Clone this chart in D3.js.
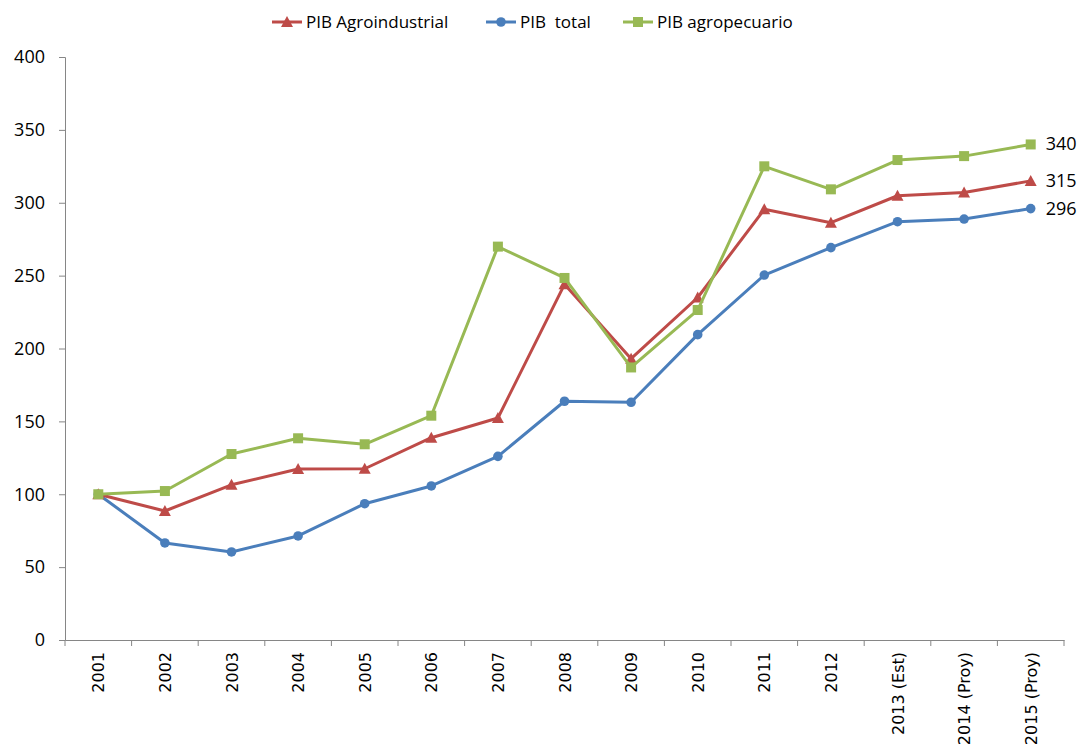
<!DOCTYPE html>
<html>
<head>
<meta charset="utf-8">
<script src="https://cdn.jsdelivr.net/npm/d3@7"></script>
<style>
  body { margin: 0; background: #fff; }
  svg { display: block; }
</style>
</head>
<body>
<svg id="chart" width="1078" height="751"></svg>
<script>
const years = ["2001", "2002", "2003", "2004", "2005", "2006", "2007", "2008", "2009", "2010", "2011", "2012", "2013 (Est)", "2014 (Proy)", "2015 (Proy)"];

const pibAgroindustrial = [100, 88.5, 106.5, 117.3, 117.5, 138.8, 152.3, 244, 193, 235, 295.5, 286.3, 304.8, 307, 315];
const pibTotal = [100, 66.6, 60.4, 71.4, 93.5, 105.7, 126, 163.8, 163.1, 209.5, 250.4, 269.2, 287, 288.8, 296];
const pibAgropecuario = [100, 102.2, 127.6, 138.4, 134.3, 153.9, 269.9, 248.4, 187, 226.4, 325, 309.2, 329.3, 332, 340];

const yTicks = [0, 50, 100, 150, 200, 250, 300, 350, 400];
const endLabels = ["340", "315", "296"];

const width = 1078;
const height = 751;
const margin = { top: 57, right: 14, bottom: 111, left: 65 };

const svg = d3.select("#chart");

const x = d3.scaleBand()
            .domain(years)
            .range([margin.left, width - margin.right]);

const y = d3.scaleLinear()
            .domain([0, 400])
            .range([height - margin.bottom, margin.top]);

const axisColor = "#868686";

// y axis
let yAxis = svg.append("g")
               .attr("transform", `translate(${margin.left},0)`)
               .call(d3.axisLeft(y).tickValues(yTicks).tickSize(6).tickPadding(14));
yAxis.selectAll("path, line").attr("stroke", axisColor);
yAxis.selectAll("text")
     .attr("font-family", "'Open Sans', sans-serif")
     .attr("font-size", 18)
     .attr("fill", "#000");

// x axis
let xAxis = svg.append("g")
               .attr("transform", `translate(0,${height - margin.bottom})`)
               .call(d3.axisBottom(x).tickSize(0));
xAxis.selectAll("path").attr("stroke", axisColor);
xAxis.selectAll(".tick text").remove();

// tick marks between categories
svg.append("g")
   .selectAll("line")
   .data(d3.range(years.length + 1))
   .enter()
   .append("line")
   .attr("x1", i => margin.left + i * x.step())
   .attr("x2", i => margin.left + i * x.step())
   .attr("y1", height - margin.bottom)
   .attr("y2", height - margin.bottom + 6)
   .attr("stroke", axisColor);

svg.append("g")
   .selectAll("text")
   .data(years)
   .enter()
   .append("text")
   .attr("transform", d => `translate(${x(d) + x.bandwidth() / 2 + 6},${height - margin.bottom + 12}) rotate(-90)`)
   .attr("text-anchor", "end")
   .attr("font-family", "'DejaVu Sans', sans-serif")
   .attr("font-size", 16)
   .attr("fill", "#000")
   .text(d => d);

const series = [
    { name: "PIB Agroindustrial", values: pibAgroindustrial, color: "#BE4B48", symbol: "triangle" },
    { name: "PIB  total", values: pibTotal, color: "#4A7EBB", symbol: "circle" },
    { name: "PIB agropecuario", values: pibAgropecuario, color: "#98B954", symbol: "square" }
];

const cx = i => x(years[i]) + x.bandwidth() / 2;

const line = d3.line()
               .x((d, i) => cx(i))
               .y(d => y(d));

function drawMarker(g, symbol, color) {
    if (symbol === "triangle") {
        g.append("path").attr("d", "M0,-6L6,5L-6,5Z").attr("fill", color);
    } else if (symbol === "circle") {
        g.append("circle").attr("r", 4.8).attr("fill", color);
    } else {
        g.append("rect").attr("x", -5).attr("y", -5).attr("width", 10).attr("height", 10).attr("fill", color);
    }
}

// draw in order: blue, red, green (green on top like the reference)
[series[1], series[0], series[2]].forEach(s => {
    svg.append("path")
       .datum(s.values)
       .attr("d", line)
       .attr("fill", "none")
       .attr("stroke", s.color)
       .attr("stroke-width", 3)
       .attr("stroke-linejoin", "round");

    s.values.forEach((v, i) => {
        let g = svg.append("g").attr("transform", `translate(${cx(i)},${y(v)})`);
        drawMarker(g, s.symbol, s.color);
    });
});

// end labels
let last = years.length - 1;
[pibAgropecuario, pibAgroindustrial, pibTotal].forEach((vals, k) => {
    svg.append("text")
       .attr("x", cx(last) + 15)
       .attr("y", y(vals[last]) + 6)
       .attr("font-family", "'Open Sans', sans-serif")
       .attr("font-size", 18)
       .attr("fill", "#000")
       .text(endLabels[k]);
});

// legend
const legendX = [272, 486, 623];
series.forEach((s, i) => {
    let g = svg.append("g").attr("transform", `translate(${legendX[i]},22)`);
    g.append("line")
     .attr("x1", 0).attr("x2", 30)
     .attr("stroke", s.color)
     .attr("stroke-width", 3);
    let m = g.append("g").attr("transform", "translate(15,0)");
    drawMarker(m, s.symbol, s.color);
    g.append("text")
     .attr("x", 34)
     .attr("y", 6)
     .attr("font-family", "'Open Sans', sans-serif")
     .attr("font-size", 17)
     .attr("fill", "#000")
     .style("white-space", "pre")
     .text(s.name);
});
</script>
</body>
</html>
